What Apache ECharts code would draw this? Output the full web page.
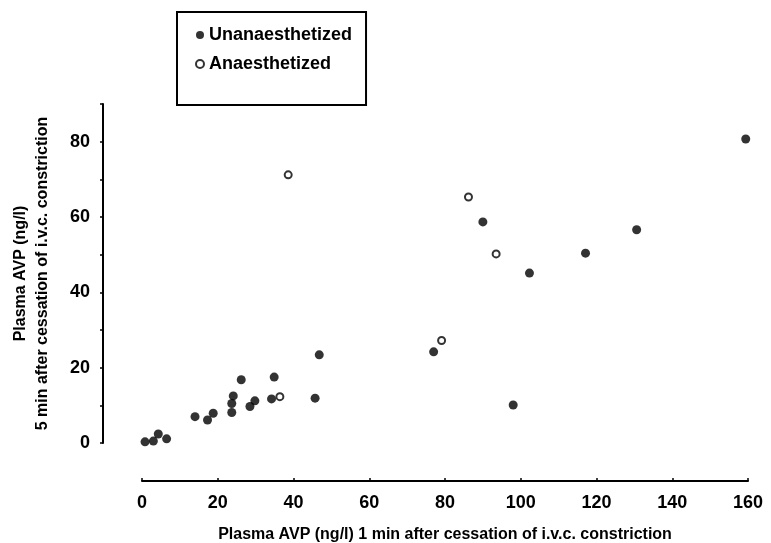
<!DOCTYPE html>
<html>
<head>
<meta charset="utf-8">
<title>Plasma AVP</title>
<script src="https://cdn.jsdelivr.net/npm/echarts@6/dist/echarts.min.js"></script>
<style>
  html, body { margin: 0; padding: 0; background: #fff; }
  #chart { width: 771px; height: 543px; }
</style>
</head>
<body>
<div id="chart"></div>
<script>
// values: [AVP at 1 min, AVP at 5 min] (ng/l)
const unanaesthetized = [
  [0.8, 0.3], [3.0, 0.5], [4.3, 2.4], [6.5, 1.1],
  [14.0, 7.0], [17.3, 6.1], [18.8, 7.9],
  [23.7, 8.1], [23.7, 10.5], [24.1, 12.5], [26.2, 16.8],
  [28.5, 9.7], [29.8, 11.2], [34.2, 11.7], [34.9, 17.5],
  [45.7, 11.9], [46.8, 23.4], [77.0, 24.2], [90.0, 58.7],
  [98.0, 10.1], [102.3, 45.1], [117.1, 50.4], [130.6, 56.6],
  [159.4, 80.7]
];
const anaesthetized = [
  [36.4, 12.3], [38.6, 71.2], [79.1, 27.2], [86.2, 65.3], [93.5, 50.2]
];
const xTicks = [0, 20, 40, 60, 80, 100, 120, 140, 160];
const yTicks = [0, 20, 40, 60, 80];

const font = 'Liberation Sans, Arial, Helvetica, sans-serif';

let chart = echarts.init(document.getElementById('chart'));
chart.setOption({
  animation: false,
  backgroundColor: '#fff',
  textStyle: { fontFamily: font, color: '#000' },
  legend: {
    orient: 'vertical',
    left: 177,
    top: 12,
    padding: [14, 14, 32, 18],
    itemGap: 11,
    itemWidth: 8,
    itemHeight: 8,
    borderColor: '#000',
    borderWidth: 2,
    borderRadius: 0,
    textStyle: { fontFamily: font, fontSize: 18, fontWeight: 'bold', color: '#000' },
    data: ['Unanaesthetized', 'Anaesthetized']
  },
  grid: { left: 142, right: 23, top: 104, bottom: 100, containLabel: false, outerBoundsMode: 'none' },
  xAxis: {
    type: 'value',
    min: 0,
    max: 160,
    interval: 20,
    offset: 38,
    name: 'Plasma AVP (ng/l) 1 min after cessation of i.v.c. constriction',
    nameLocation: 'middle',
    nameGap: 46,
    nameTextStyle: { fontFamily: font, fontSize: 16, fontWeight: 'bold', color: '#000' },
    axisLine: { show: true, onZero: false, lineStyle: { color: '#000', width: 2 } },
    axisTick: { show: true, inside: true, length: 3, lineStyle: { color: '#000', width: 1.5 } },
    axisLabel: {
      margin: 13, fontFamily: font, fontSize: 18, fontWeight: 'bold', color: '#000',
      formatter: v => xTicks.includes(v) ? String(v) : ''
    },
    splitLine: { show: false }
  },
  yAxis: {
    type: 'value',
    min: 0,
    max: 90,
    interval: 10,
    offset: 39,
    name: 'Plasma AVP (ng/l)\n5 min after cessation of i.v.c. constriction',
    nameLocation: 'middle',
    nameGap: 49,
    nameTextStyle: { fontFamily: font, fontSize: 16, fontWeight: 'bold', color: '#000', lineHeight: 22 },
    axisLine: { show: true, onZero: false, lineStyle: { color: '#000', width: 2 } },
    axisTick: { show: true, length: 3, lineStyle: { color: '#000', width: 1.5 } },
    axisLabel: {
      margin: 13, fontFamily: font, fontSize: 18, fontWeight: 'bold', color: '#000',
      formatter: v => yTicks.includes(v) ? String(v) : ''
    },
    splitLine: { show: false }
  },
  series: [
    {
      name: 'Unanaesthetized',
      type: 'scatter',
      symbol: 'circle',
      symbolSize: 9,
      itemStyle: { color: '#000' },
      data: unanaesthetized
    },
    {
      name: 'Anaesthetized',
      type: 'scatter',
      symbol: 'circle',
      symbolSize: 7,
      itemStyle: { color: '#fff', borderColor: '#000', borderWidth: 2 },
      data: anaesthetized
    }
  ]
});
</script>
</body>
</html>
